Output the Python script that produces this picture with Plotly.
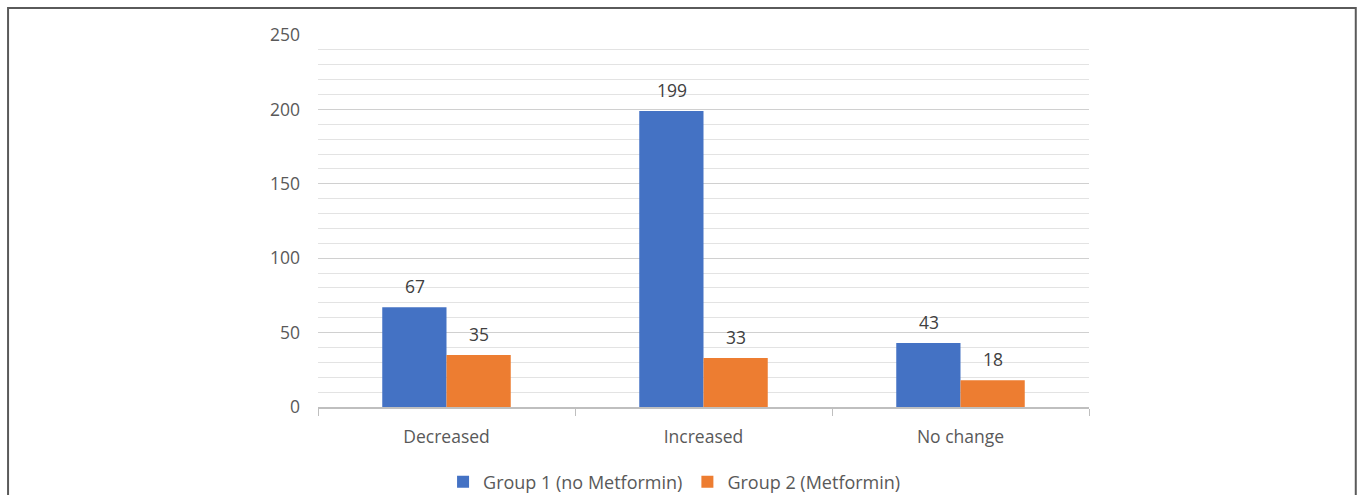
import plotly.graph_objects as go

categories = ["Decreased", "Increased", "No change"]
group1 = [67, 199, 43]
group2 = [35, 33, 18]
series_names = ["Group 1 (no Metformin)", "Group 2 (Metformin)"]
y_ticks = [0, 50, 100, 150, 200, 250]

BLUE = "#4472C4"
ORANGE = "#ED7D31"
FONT = "Open Sans"

fig = go.Figure()
fig.add_trace(go.Bar(x=categories, y=group1, name=series_names[0], marker=dict(color=BLUE, line=dict(width=0))))
fig.add_trace(go.Bar(x=categories, y=group2, name=series_names[1], marker=dict(color=ORANGE, line=dict(width=0))))

annotations = []
for vals, shift in ((group1, -32), (group2, 32)):
    for c, v in zip(categories, vals):
        annotations.append(dict(x=c, y=v, xref="x", yref="y", text=str(v), showarrow=False,
                                xshift=shift, yshift=21, font=dict(family=FONT, size=17.5, color="#404040")))

fig.update_layout(
    width=1360, height=495,
    margin=dict(l=318, r=271, t=35, b=88),
    paper_bgcolor="white", plot_bgcolor="white",
    barmode="group", bargap=0.5, bargroupgap=0,
    font=dict(family=FONT, size=17.5, color="#595959"),
    showlegend=True,
    legend=dict(orientation="h", xref="container", yref="container", x=0.496, y=0.026,
                xanchor="center", yanchor="middle", font=dict(family=FONT, size=18, color="#595959"),
                itemwidth=30, traceorder="normal"),
    annotations=annotations,
    shapes=[dict(type="rect", xref="paper", yref="paper", x0=-0.402, x1=1.346, y0=-0.4, y1=1.0726,
                 line=dict(color="#5a5a5a", width=2), fillcolor="rgba(0,0,0,0)", layer="above")],
)
fig.update_xaxes(showgrid=False, showline=True, linecolor="#BFBFBF", linewidth=1.5,
                 ticks="outside", tickson="boundaries", ticklen=7, tickcolor="#BFBFBF",
                 ticklabelstandoff=13, tickfont=dict(family=FONT, size=17.5, color="#595959"))
fig.update_yaxes(range=[0, 250], tickvals=y_ticks, showline=False, zeroline=False,
                 showgrid=True, gridcolor="#D0D0D0", gridwidth=1.3,
                 minor=dict(dtick=10, showgrid=True, gridcolor="#E3E3E3", gridwidth=1),
                 ticks="", ticklabelstandoff=17, tickfont=dict(family=FONT, size=17.5, color="#595959"))

fig.write_html("out.html")
